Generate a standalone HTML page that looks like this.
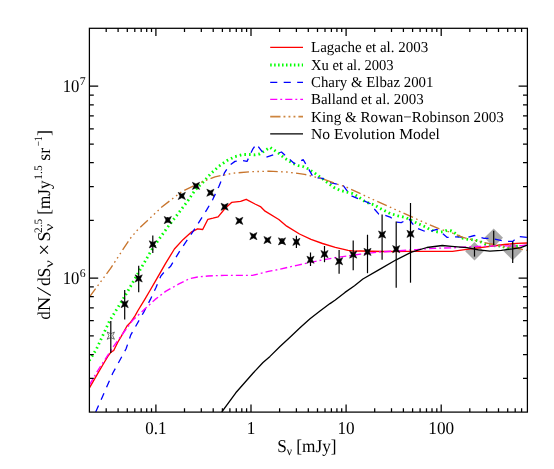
<!DOCTYPE html>
<html><head><meta charset="utf-8"><title>chart</title>
<style>html,body{margin:0;padding:0;background:#fff;}body{width:554px;height:469px;overflow:hidden;font-family:"Liberation Serif",serif;}svg{display:block;}text{font-family:"Liberation Serif",serif;fill:#000;text-rendering:geometricPrecision;}</style></head><body>
<svg width="554" height="469" viewBox="0 0 554 469">
<rect width="554" height="469" fill="#fff"/>
<defs><filter id="g" x="-5%" y="-5%" width="110%" height="110%" color-interpolation-filters="sRGB"><feColorMatrix type="saturate" values="0"/></filter><clipPath id="c"><rect x="89.4" y="28.3" width="438.0" height="383.8"/></clipPath></defs>
<g clip-path="url(#c)" fill="none" stroke-linejoin="round">
<path d="M465.2,251.2 L474.5,241.89999999999998 L483.8,251.2 L474.5,260.5Z" fill="#a9a9a9" stroke="none"/>
<path d="M484.4,237.8 L493.7,228.5 L503.0,237.8 L493.7,247.10000000000002Z" fill="#a9a9a9" stroke="none"/>
<path d="M503.40000000000003,251 L512.7,241.7 L522.0,251 L512.7,260.3Z" fill="#a9a9a9" stroke="none"/>
<path d="M89.3,388.2 L97.8,373.3 L104.2,362.5 L108.0,356.2 L111.0,352.1 L113.7,350.5 L117.9,342.0 L121.1,336.7 L127.0,326.0 L130.2,322.8 L135.0,315.9 L138.0,310.5 L144.8,299.4 L150.0,290.5 L156.0,280.2 L165.6,263.4 L174.4,249.0 L183.2,239.4 L191.2,232.2 L197.6,228.8 L202.7,229.5 L207.9,219.3 L213.0,218.2 L218.1,216.9 L225.2,208.3 L231.6,202.4 L240.6,201.4 L246.2,199.3 L255.0,204.0 L260.4,206.6 L265.1,211.2 L278.8,219.5 L286.7,226.2 L299.5,234.0 L311.0,239.4 L322.5,243.5 L335.3,247.4 L348.1,250.4 L354.5,251.2 L360.4,251.0 L383.4,251.5 L409.0,251.4 L434.6,251.4 L452.5,251.4 L463.0,249.9 L478.4,247.8 L492.7,246.0 L504.5,244.5 L516.3,243.4 L527.3,243.0" stroke="#ff0000" stroke-width="1.35"/>
<path d="M89.3,360.5 L96.5,349.0 L109.5,321.0 L124.7,296.5 L138.7,272.2 L152.8,248.0 L159.2,239.0 L167.0,228.0 L187.4,201.5 L195.0,190.2 L203.0,182.2 L211.0,173.4 L219.0,166.2 L227.0,160.6 L235.0,156.6 L243.0,154.5 L249.4,154.5 L255.0,154.8 L259.6,154.0 L265.2,150.5 L270.0,147.3 L274.0,150.0 L279.6,154.0 L284.4,158.0 L289.2,161.2 L293.2,163.6 L298.0,165.5 L302.8,166.5 L308.0,168.8 L314.4,172.8 L320.8,177.6 L327.2,182.4 L333.6,187.2 L340.0,190.4 L346.4,192.0 L352.8,193.6 L358.0,196.6 L366.0,202.2 L374.0,204.8 L382.0,209.4 L390.0,213.4 L398.0,215.8 L406.0,217.6 L411.5,220.5 L418.0,223.6 L425.0,226.7 L429.3,229.1 L433.7,231.3 L438.5,232.1 L442.9,231.8 L447.2,230.2 L451.5,231.0 L455.3,233.4 L458.6,236.1 L462.9,238.3 L466.7,239.1 L471.6,239.7 L476.5,240.5 L481.3,242.1 L485.0,244.0 L489.9,245.4 L501.4,246.1 L509.1,248.9 L516.8,246.1 L521.0,246.0" stroke="#00ff00" stroke-width="2.8" stroke-dasharray="1.6 3.1"/>
<path d="M95.7,412.0 L112.7,373.3 L126.0,349.0 L130.8,334.9 L143.9,311.9 L150.4,299.4 L156.0,287.4 L160.8,276.2 L165.0,271.0 L170.4,266.6 L180.0,250.6 L193.6,230.6 L207.0,209.4 L212.6,199.8 L219.0,186.2 L224.6,172.6 L229.4,165.4 L235.0,161.4 L241.4,160.3 L247.0,161.4 L252.6,149.4 L256.4,144.0 L266.2,157.1 L281.5,152.0 L294.3,163.5 L303.3,159.7 L313.5,177.6 L322.5,178.4 L330.2,182.7 L343.0,185.3 L350.7,195.5 L358.0,198.7 L363.6,200.6 L370.0,203.5 L374.0,208.6 L378.8,214.2 L384.4,215.0 L390.8,217.4 L396.4,222.2 L401.2,222.7 L408.8,218.7 L412.0,223.0 L416.0,227.8 L424.0,231.0 L429.6,231.5 L436.8,229.4 L442.4,233.4 L447.2,237.4 L454.4,236.9 L466.9,237.4 L474.5,235.5 L484.1,238.4 L491.8,238.4 L505.3,241.3 L512.9,241.3 L518.7,236.5 L527.3,237.4" stroke="#0000ff" stroke-width="1.3" stroke-dasharray="7.1 6.4"/>
<path d="M89.3,385.2 L97.8,370.5 L109.5,352.5 L113.2,346.9 L132.4,320.5 L146.4,307.6 L155.2,299.4 L165.6,291.4 L178.4,284.2 L189.6,278.6 L197.6,277.0 L207.9,276.0 L224.5,275.3 L233.0,275.4 L252.5,275.4 L260.0,273.6 L268.4,271.4 L279.0,269.4 L296.9,265.3 L317.4,260.9 L335.3,257.6 L354.5,255.0 L360.4,254.2 L378.3,252.1 L396.2,250.9 L416.7,249.6 L434.6,248.3 L452.5,247.8 L466.9,247.0 L478.4,246.4 L500.0,245.8 L515.0,246.0 L521.2,245.6 L527.3,244.8" stroke="#ff00ff" stroke-width="1.35" stroke-dasharray="7.1 3 1.9 3.05"/>
<path d="M89.4,297.0 L110.6,268.4 L129.8,239.0 L137.5,230.0 L161.8,207.0 L181.7,191.7 L200.2,182.7 L215.0,176.8 L232.9,173.2 L250.8,171.7 L268.7,171.2 L286.7,172.0 L304.6,174.3 L322.5,178.9 L340.4,185.3 L345.0,186.4 L370.6,198.4 L396.2,209.9 L421.8,221.4 L440.0,229.2 L451.5,232.6 L463.0,237.4 L474.5,240.3 L484.1,242.6 L493.7,244.5 L505.3,247.0 L516.8,248.0 L522.5,249.5 L527.3,250.3" stroke="#c8752d" stroke-width="1.35" stroke-dasharray="10.4 3.4 1.6 3.4 1.6 3.4 1.6 3.4"/>
<path d="M221.8,412.0 L235.8,392.8 L253.4,372.8 L263.0,362.5 L270.0,356.4 L280.0,346.5 L290.0,337.2 L300.0,327.8 L310.0,318.8 L320.0,311.0 L330.0,303.6 L335.3,300.0 L345.0,292.4 L354.5,285.7 L362.9,279.0 L378.3,270.1 L396.2,259.8 L411.5,252.1 L426.9,247.5 L442.3,245.5 L451.5,246.4 L466.9,247.6 L478.4,249.9 L489.9,251.1 L501.4,250.3 L512.9,248.8 L520.6,247.6 L527.3,245.1" stroke="#000" stroke-width="1.3"/>
<path d="M474.5,247 L474.5,256.6" stroke="#000" stroke-width="1.2"/>
<path d="M493.7,230.7 L493.7,245.1" stroke="#000" stroke-width="1.2"/>
<path d="M512.7,241.5 L512.7,263" stroke="#000" stroke-width="1.2"/>
<path d="M110.8,321 L110.8,353" stroke="#000" stroke-width="1.2"/>
<path d="M114.41,339.26 L110.80,337.55 L107.19,339.26 L108.90,335.65 L107.19,332.04 L110.80,333.75 L114.41,332.04 L112.70,335.65Z" fill="none" stroke="#333" stroke-width="0.7"/>
<path d="M124.7,290 L124.7,319.6" stroke="#000" stroke-width="1.2"/>
<path d="M128.31,307.66 L124.70,305.95 L121.09,307.66 L122.80,304.05 L121.09,300.44 L124.70,302.15 L128.31,300.44 L126.60,304.05Z" fill="#000" stroke="#000" stroke-width="0.5"/>
<path d="M138.7,265.8 L138.7,292.2" stroke="#000" stroke-width="1.2"/>
<path d="M142.31,282.06 L138.70,280.35 L135.09,282.06 L136.80,278.45 L135.09,274.84 L138.70,276.55 L142.31,274.84 L140.60,278.45Z" fill="#000" stroke="#000" stroke-width="0.5"/>
<path d="M152.8,235.6 L152.8,253" stroke="#000" stroke-width="1.2"/>
<path d="M156.41,247.96 L152.80,246.25 L149.19,247.96 L150.90,244.35 L149.19,240.74 L152.80,242.45 L156.41,240.74 L154.70,244.35Z" fill="#000" stroke="#000" stroke-width="0.5"/>
<path d="M167.8,217 L167.8,222.5" stroke="#000" stroke-width="1.2"/>
<path d="M171.41,223.66 L167.80,221.95 L164.19,223.66 L165.90,220.05 L164.19,216.44 L167.80,218.15 L171.41,216.44 L169.70,220.05Z" fill="#000" stroke="#000" stroke-width="0.5"/>
<path d="M185.41,199.56 L181.80,197.85 L178.19,199.56 L179.90,195.95 L178.19,192.34 L181.80,194.05 L185.41,192.34 L183.70,195.95Z" fill="#000" stroke="#000" stroke-width="0.5"/>
<path d="M199.61,189.46 L196.00,187.75 L192.39,189.46 L194.10,185.85 L192.39,182.24 L196.00,183.95 L199.61,182.24 L197.90,185.85Z" fill="#000" stroke="#000" stroke-width="0.5"/>
<path d="M214.01,196.36 L210.40,194.65 L206.79,196.36 L208.50,192.75 L206.79,189.14 L210.40,190.85 L214.01,189.14 L212.30,192.75Z" fill="#000" stroke="#000" stroke-width="0.5"/>
<path d="M228.21,210.36 L224.60,208.65 L220.99,210.36 L222.70,206.75 L220.99,203.14 L224.60,204.85 L228.21,203.14 L226.50,206.75Z" fill="#000" stroke="#000" stroke-width="0.5"/>
<path d="M242.91,224.46 L239.30,222.75 L235.69,224.46 L237.40,220.85 L235.69,217.24 L239.30,218.95 L242.91,217.24 L241.20,220.85Z" fill="#000" stroke="#000" stroke-width="0.5"/>
<path d="M257.01,239.76 L253.40,238.05 L249.79,239.76 L251.50,236.15 L249.79,232.54 L253.40,234.25 L257.01,232.54 L255.30,236.15Z" fill="#000" stroke="#000" stroke-width="0.5"/>
<path d="M271.11,243.66 L267.50,241.95 L263.89,243.66 L265.60,240.05 L263.89,236.44 L267.50,238.15 L271.11,236.44 L269.40,240.05Z" fill="#000" stroke="#000" stroke-width="0.5"/>
<path d="M282,238 L282,244" stroke="#000" stroke-width="1.2"/>
<path d="M285.61,244.96 L282.00,243.25 L278.39,244.96 L280.10,241.35 L278.39,237.74 L282.00,239.45 L285.61,237.74 L283.90,241.35Z" fill="#000" stroke="#000" stroke-width="0.5"/>
<path d="M296.4,235.8 L296.4,247.9" stroke="#000" stroke-width="1.2"/>
<path d="M300.01,245.46 L296.40,243.75 L292.79,245.46 L294.50,241.85 L292.79,238.24 L296.40,239.95 L300.01,238.24 L298.30,241.85Z" fill="#000" stroke="#000" stroke-width="0.5"/>
<path d="M310.5,252.5 L310.5,266" stroke="#000" stroke-width="1.2"/>
<path d="M314.11,263.36 L310.50,261.65 L306.89,263.36 L308.60,259.75 L306.89,256.14 L310.50,257.85 L314.11,256.14 L312.40,259.75Z" fill="#000" stroke="#000" stroke-width="0.5"/>
<path d="M324.5,246 L324.5,262.2" stroke="#000" stroke-width="1.2"/>
<path d="M328.11,257.66 L324.50,255.95 L320.89,257.66 L322.60,254.05 L320.89,250.44 L324.50,252.15 L328.11,250.44 L326.40,254.05Z" fill="#000" stroke="#000" stroke-width="0.5"/>
<path d="M339.1,249.9 L339.1,273.7" stroke="#000" stroke-width="1.2"/>
<path d="M342.71,264.86 L339.10,263.15 L335.49,264.86 L337.20,261.25 L335.49,257.64 L339.10,259.35 L342.71,257.64 L341.00,261.25Z" fill="#000" stroke="#000" stroke-width="0.5"/>
<path d="M353.2,240.5 L353.2,270.3" stroke="#000" stroke-width="1.2"/>
<path d="M356.81,258.16 L353.20,256.45 L349.59,258.16 L351.30,254.55 L349.59,250.94 L353.20,252.65 L356.81,250.94 L355.10,254.55Z" fill="#000" stroke="#000" stroke-width="0.5"/>
<path d="M367.5,234.8 L367.5,273.2" stroke="#000" stroke-width="1.2"/>
<path d="M371.11,255.56 L367.50,253.85 L363.89,255.56 L365.60,251.95 L363.89,248.34 L367.50,250.05 L371.11,248.34 L369.40,251.95Z" fill="#000" stroke="#000" stroke-width="0.5"/>
<path d="M382.1,214.5 L382.1,259.8" stroke="#000" stroke-width="1.2"/>
<path d="M385.71,238.16 L382.10,236.45 L378.49,238.16 L380.20,234.55 L378.49,230.94 L382.10,232.65 L385.71,230.94 L384.00,234.55Z" fill="#000" stroke="#000" stroke-width="0.5"/>
<path d="M396.2,221.4 L396.2,287.8" stroke="#000" stroke-width="1.2"/>
<path d="M399.81,252.76 L396.20,251.05 L392.59,252.76 L394.30,249.15 L392.59,245.54 L396.20,247.25 L399.81,245.54 L398.10,249.15Z" fill="#000" stroke="#000" stroke-width="0.5"/>
<path d="M410.5,203 L410.5,282.7" stroke="#000" stroke-width="1.2"/>
<path d="M414.11,237.46 L410.50,235.75 L406.89,237.46 L408.60,233.85 L406.89,230.24 L410.50,231.95 L414.11,230.24 L412.40,233.85Z" fill="#000" stroke="#000" stroke-width="0.5"/>
</g>
<g stroke="#000" stroke-width="1.25" fill="none" stroke-linecap="butt">
<rect x="89.4" y="28.3" width="438.0" height="383.8"/>
<path d="M106.2,412.1 v-3.8 M106.2,28.3 v3.8 M118.1,412.1 v-3.8 M118.1,28.3 v3.8 M127.3,412.1 v-3.8 M127.3,28.3 v3.8 M134.8,412.1 v-3.8 M134.8,28.3 v3.8 M141.2,412.1 v-3.8 M141.2,28.3 v3.8 M146.7,412.1 v-3.8 M146.7,28.3 v3.8 M151.5,412.1 v-3.8 M151.5,28.3 v3.8 M155.9,412.1 v-7.6 M155.9,28.3 v7.6 M184.5,412.1 v-3.8 M184.5,28.3 v3.8 M201.3,412.1 v-3.8 M201.3,28.3 v3.8 M213.2,412.1 v-3.8 M213.2,28.3 v3.8 M222.4,412.1 v-3.8 M222.4,28.3 v3.8 M229.9,412.1 v-3.8 M229.9,28.3 v3.8 M236.3,412.1 v-3.8 M236.3,28.3 v3.8 M241.8,412.1 v-3.8 M241.8,28.3 v3.8 M246.6,412.1 v-3.8 M246.6,28.3 v3.8 M251.0,412.1 v-7.6 M251.0,28.3 v7.6 M279.6,412.1 v-3.8 M279.6,28.3 v3.8 M296.4,412.1 v-3.8 M296.4,28.3 v3.8 M308.3,412.1 v-3.8 M308.3,28.3 v3.8 M317.5,412.1 v-3.8 M317.5,28.3 v3.8 M325.0,412.1 v-3.8 M325.0,28.3 v3.8 M331.4,412.1 v-3.8 M331.4,28.3 v3.8 M336.9,412.1 v-3.8 M336.9,28.3 v3.8 M341.7,412.1 v-3.8 M341.7,28.3 v3.8 M346.1,412.1 v-7.6 M346.1,28.3 v7.6 M374.7,412.1 v-3.8 M374.7,28.3 v3.8 M391.5,412.1 v-3.8 M391.5,28.3 v3.8 M403.4,412.1 v-3.8 M403.4,28.3 v3.8 M412.6,412.1 v-3.8 M412.6,28.3 v3.8 M420.1,412.1 v-3.8 M420.1,28.3 v3.8 M426.5,412.1 v-3.8 M426.5,28.3 v3.8 M432.0,412.1 v-3.8 M432.0,28.3 v3.8 M436.8,412.1 v-3.8 M436.8,28.3 v3.8 M441.2,412.1 v-7.6 M441.2,28.3 v7.6 M469.8,412.1 v-3.8 M469.8,28.3 v3.8 M486.6,412.1 v-3.8 M486.6,28.3 v3.8 M498.5,412.1 v-3.8 M498.5,28.3 v3.8 M507.7,412.1 v-3.8 M507.7,28.3 v3.8 M515.2,412.1 v-3.8 M515.2,28.3 v3.8 M521.6,412.1 v-3.8 M521.6,28.3 v3.8 M89.4,378.4 h4.4 M527.4,378.4 h-4.4 M89.4,354.5 h4.4 M527.4,354.5 h-4.4 M89.4,335.9 h4.4 M527.4,335.9 h-4.4 M89.4,320.7 h4.4 M527.4,320.7 h-4.4 M89.4,307.8 h4.4 M527.4,307.8 h-4.4 M89.4,296.7 h4.4 M527.4,296.7 h-4.4 M89.4,286.9 h4.4 M527.4,286.9 h-4.4 M89.4,278.1 h8.8 M527.4,278.1 h-8.8 M89.4,220.3 h4.4 M527.4,220.3 h-4.4 M89.4,186.5 h4.4 M527.4,186.5 h-4.4 M89.4,162.6 h4.4 M527.4,162.6 h-4.4 M89.4,144.0 h4.4 M527.4,144.0 h-4.4 M89.4,128.8 h4.4 M527.4,128.8 h-4.4 M89.4,115.9 h4.4 M527.4,115.9 h-4.4 M89.4,104.8 h4.4 M527.4,104.8 h-4.4 M89.4,95.0 h4.4 M527.4,95.0 h-4.4 M89.4,86.2 h8.8 M527.4,86.2 h-8.8"/>
</g>
<g filter="url(#g)">
<text x="145.2" y="433.6" font-size="18.2" textLength="21.3" lengthAdjust="spacingAndGlyphs">0.1</text>
<text x="246.7" y="433.6" font-size="18.2" textLength="8.6" lengthAdjust="spacingAndGlyphs">1</text>
<text x="337.5" y="433.6" font-size="18.2" textLength="17.2" lengthAdjust="spacingAndGlyphs">10</text>
<text x="428.3" y="433.6" font-size="18.2" textLength="25.8" lengthAdjust="spacingAndGlyphs">100</text>
<text x="62.7" y="92.2" font-size="18.2" textLength="16.7" lengthAdjust="spacingAndGlyphs">10</text>
<text x="79.7" y="85.1" font-size="11.8">7</text>
<text x="62.7" y="284.1" font-size="18.2" textLength="16.7" lengthAdjust="spacingAndGlyphs">10</text>
<text x="79.7" y="277.0" font-size="11.8">6</text>
<text x="277.2" y="452" font-size="18" textLength="59.4" lengthAdjust="spacingAndGlyphs">S<tspan dy="3.2" font-size="12">ν</tspan><tspan dy="-3.2"> [mJy]</tspan></text>
<g transform="translate(49.6,319.0) rotate(-90)">
<text x="-0.4" y="0" font-size="18" textLength="8.2" lengthAdjust="spacingAndGlyphs">d</text>
<text x="7.7" y="0" font-size="18" textLength="14.6" lengthAdjust="spacingAndGlyphs">N</text>
<text x="32.9" y="0" font-size="18" textLength="8.8" lengthAdjust="spacingAndGlyphs">d</text>
<text x="41.6" y="0" font-size="18" textLength="9.8" lengthAdjust="spacingAndGlyphs">S</text>
<text x="51.2" y="3.1" font-size="12" textLength="7.6" lengthAdjust="spacingAndGlyphs">ν</text>
<text x="63.2" y="1.8" font-size="21">×</text>
<text x="77.6" y="0" font-size="18">S</text>
<text x="86" y="-7.3" font-size="11.3">2.5</text>
<text x="87.8" y="3.1" font-size="12" textLength="7.6" lengthAdjust="spacingAndGlyphs">ν</text>
<text x="104.3" y="0" font-size="18" textLength="34.2" lengthAdjust="spacingAndGlyphs">[mJy</text>
<text x="139.3" y="-7.3" font-size="11.5" textLength="14.4" lengthAdjust="spacingAndGlyphs">1.5</text>
<text x="158.2" y="0" font-size="18">sr</text>
<text x="172.8" y="-7.3" font-size="11.3" textLength="9.6" lengthAdjust="spacingAndGlyphs">−1</text>
<text x="182.9" y="0" font-size="18">]</text>
<path d="M23.5,1.2 L31.6,-12.4" stroke="#000" stroke-width="1.05" fill="none"/>
</g>
<text x="311" y="52.3" font-size="15.2" textLength="117.2" lengthAdjust="spacingAndGlyphs">Lagache et al. 2003</text>
<text x="311" y="69.8" font-size="15.2" textLength="82.6" lengthAdjust="spacingAndGlyphs">Xu et al. 2003</text>
<text x="311" y="87.2" font-size="15.2" textLength="122.4" lengthAdjust="spacingAndGlyphs">Chary &amp; Elbaz 2001</text>
<text x="311" y="104.3" font-size="15.2" textLength="112.6" lengthAdjust="spacingAndGlyphs">Balland et al. 2003</text>
<text x="311" y="121.5" font-size="15.2" textLength="192.8" lengthAdjust="spacingAndGlyphs">King &amp; Rowan−Robinson 2003</text>
<text x="311" y="138.7" font-size="15.2" textLength="128.9" lengthAdjust="spacingAndGlyphs">No Evolution Model</text>
</g>
<path d="M270.2,47.4 L303,47.4" fill="none" stroke="#ff0000" stroke-width="1.35"/>
<path d="M270.2,64.9 L303,64.9" fill="none" stroke="#00ff00" stroke-width="3" stroke-dasharray="1.5 2.45"/>
<path d="M270.2,82.3 L303,82.3" fill="none" stroke="#0000ff" stroke-width="1.3" stroke-dasharray="7.1 6.4"/>
<path d="M270.2,99.4 L303,99.4" fill="none" stroke="#ff00ff" stroke-width="1.35" stroke-dasharray="7.1 3 1.9 3.05"/>
<path d="M270.2,116.6 L303,116.6" fill="none" stroke="#cd853f" stroke-width="1.9" stroke-dasharray="10.3 3 1.9 3.1 1.9 3.1 1.9 3"/>
<path d="M270.2,133.8 L303,133.8" fill="none" stroke="#000" stroke-width="1.2"/>
</svg></body></html>
